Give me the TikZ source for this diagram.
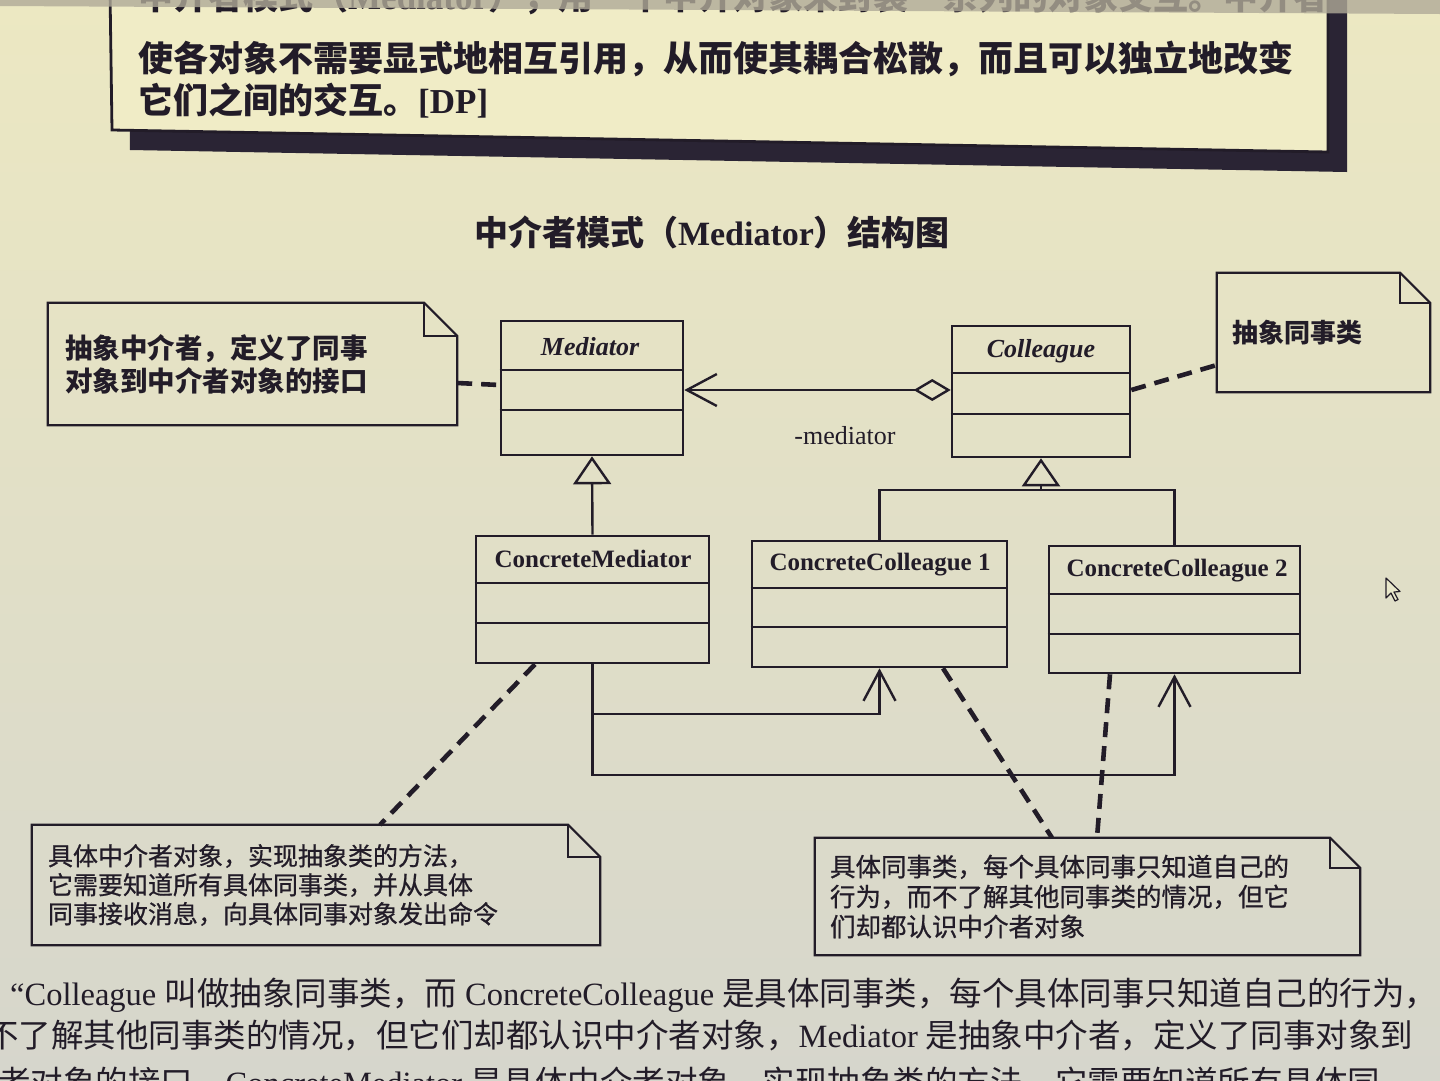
\documentclass[tikz,border=0pt]{standalone}
\usepackage{fontspec}
\setmainfont{Liberation Serif}
\newfontfamily\cjk{Noto Sans CJK SC}
\newfontfamily\cjkm[FakeBold=0.7]{Noto Sans CJK SC}
\usetikzlibrary{arrows.meta}

\definecolor{ink}{RGB}{34,28,40}
\definecolor{bgtop}{RGB}{236,232,194}
\definecolor{bgmid}{RGB}{233,231,203}
\definecolor{bgbot}{RGB}{214,214,204}
\definecolor{boxfill}{RGB}{240,236,198}
\definecolor{shadowc}{RGB}{42,36,52}
\definecolor{stripc}{RGB}{176,170,152}

% dog-eared note outline around a named node: #1 node, #2 fold size
\newcommand\foldnote[2]{%
  \draw[noteline] (#1.north west) -- ([xshift=-#2pt]#1.north east)
    -- ([yshift=-#2pt]#1.north east) -- (#1.south east) -- (#1.south west) -- cycle;
  \draw[noteline] ([xshift=-#2pt]#1.north east) |- ([yshift=-#2pt]#1.north east);}

\begin{document}
\begin{tikzpicture}[x=1pt,y=-1pt,
  umlbox/.style={draw=ink, line width=2.6pt, inner sep=0pt},
  umlline/.style={draw=ink, line width=2.6pt},
  clsname/.style={text=ink, font=\fontsize{25}{28}\selectfont\bfseries},
  notebox/.style={inner ysep=0pt, align=left, text=ink},
  noteline/.style={draw=ink, line width=2.2pt, line join=miter},
  notelink/.style={draw=ink, line width=4.6pt, dash pattern=on 15pt off 9pt},
  assoc/.style={draw=ink, line width=2.4pt, -{Straight Barb[length=30pt,width=32pt]}},
  gen/.style={draw=ink, line width=2.4pt, -{Triangle[open,length=28pt,width=38pt]}},
  bodytext/.style={text=ink, anchor=west, inner sep=0pt,
    font=\fontsize{32.5}{36}\selectfont},
  deftext/.style={text=ink, anchor=west, inner sep=0pt,
    font=\fontsize{35}{40}\selectfont\bfseries}]

\clip (0,0) rectangle (1440,1080);
\shade[top color=bgtop, middle color=bgmid, bottom color=bgbot] (0,0) rectangle (1440,1080);

% definition box at the top, with its drop shadow
\fill[shadowc] (128,-10) -- (1347,-10) -- (1347,172) -- (130,150) -- cycle;
\filldraw[fill=boxfill, draw=ink, line width=2.8pt]
  (110,-10) -- (1328,-10) -- (1328,152) -- (112,130) -- cycle;

\node[deftext] (def1) at (138,-3) {\cjk 中介者模式（{\rmfamily Mediator}），用一个中介对象来封装一系列的对象交互。中介者};
\node[deftext] (def2) at (138,59) {\cjk 使各对象不需要显式地相互引用，从而使其耦合松散，而且可以独立地改变};
\node[deftext] (def3) at (138,101) {{\cjk 它们之间的交互。}{\rmfamily [DP]}};
\fill[stripc, opacity=0.8] (0,0) -- (1440,0) -- (1440,14) -- (0,6) -- cycle;

% title
\node[text=ink, font=\fontsize{34}{38}\selectfont\bfseries] (title) at (712,232)
  {{\cjk 中介者模式（}Mediator{\cjk ）结构图}};

% classes
\node[umlbox, minimum width=182, minimum height=134] (med) at (592,388) {};
\node[umlbox, minimum width=178, minimum height=131] (col) at (1041,391.5) {};
\node[umlbox, minimum width=233, minimum height=127] (cm)  at (592.5,599.5) {};
\node[umlbox, minimum width=255, minimum height=126] (cc1) at (879.5,604) {};
\node[umlbox, minimum width=251, minimum height=127] (cc2) at (1174.5,609.5) {};

\node[clsname, font=\fontsize{26}{28}\selectfont\bfseries\itshape] (medT) at (590,347) {Mediator};
\node[clsname, font=\fontsize{26}{28}\selectfont\bfseries\itshape] (colT) at (1041,351) {Colleague};
\node[clsname] (cmT)  at (593,559) {ConcreteMediator};
\node[clsname] (cc1T) at (880,565) {ConcreteColleague 1};
\node[clsname] (cc2T) at (1177,571) {ConcreteColleague 2};

% compartment dividers
\draw[umlline] (med.west |- 0,370) -- (med.east |- 0,370);
\draw[umlline] (med.west |- 0,410) -- (med.east |- 0,410);
\draw[umlline] (col.west |- 0,373) -- (col.east |- 0,373);
\draw[umlline] (col.west |- 0,414) -- (col.east |- 0,414);
\draw[umlline] (cm.west |- 0,583) -- (cm.east |- 0,583);
\draw[umlline] (cm.west |- 0,623) -- (cm.east |- 0,623);
\draw[umlline] (cc1.west |- 0,588) -- (cc1.east |- 0,588);
\draw[umlline] (cc1.west |- 0,627) -- (cc1.east |- 0,627);
\draw[umlline] (cc2.west |- 0,594) -- (cc2.east |- 0,594);
\draw[umlline] (cc2.west |- 0,634) -- (cc2.east |- 0,634);

% aggregation Colleague -> Mediator
\draw[draw=ink, line width=2.4pt,
  {Diamond[open,length=37pt,width=22pt]}-{Straight Barb[length=30pt,width=32pt]}]
  (col.west |- 0,390) -- (med.east |- 0,390);
\node[text=ink, font=\fontsize{26}{28}\selectfont] (rolename) at (845,436) {-mediator};

% generalisation
\draw[gen] (cm.north) -- (med.south);
\coordinate (cj) at (col.south |- 0,490);
\draw[umlline, line width=2.4pt] (cc1.north) |- (cj) -| (cc2.north);
\draw[gen] (cj) -- (col.south);

% ConcreteMediator knows the concrete colleagues
\draw[assoc] (cm.south) |- (cc1.south |- 0,714) -- (cc1.south);
\draw[assoc] (cm.south) |- (cc2.south |- 0,775) -- (cc2.south);

% notes
\node[notebox, text width=375pt, inner xsep=17pt, minimum height=122pt,
  font=\cjk\bfseries\fontsize{27.5}{33}\selectfont] (n1) at (252.5,364)
  {抽象中介者，定义了同事\\对象到中介者对象的接口};
\node[notebox, text width=183pt, inner xsep=15pt, minimum height=119pt,
  font=\cjk\bfseries\fontsize{26}{30}\selectfont] (n2) at (1323.5,332.5)
  {抽象同事类};
\node[notebox, text width=536pt, inner xsep=16pt, minimum height=120pt,
  font=\cjkm\fontsize{25}{29}\selectfont] (n3) at (316,885)
  {具体中介者对象，实现抽象类的方法，\\它需要知道所有具体同事类，并从具体\\同事接收消息，向具体同事对象发出命令};
\node[notebox, text width=515pt, inner xsep=15pt, minimum height=117pt,
  font=\cjkm\fontsize{25.5}{30}\selectfont] (n4) at (1087.5,896.5)
  {具体同事类，每个具体同事只知道自己的\\行为，而不了解其他同事类的情况，但它\\们却都认识中介者对象};
\foldnote{n1}{33}
\foldnote{n2}{30}
\foldnote{n3}{32}
\foldnote{n4}{30}

% note anchors
\draw[notelink] (n1.east |- 0,383) -- (med.west |- 0,385);
\draw[notelink] (col.east |- 0,390) -- (n2.west |- 0,365);
\draw[notelink] (cm.south -| 535,0) -- (n3.north -| 380,0);
\draw[notelink] (cc1.south -| 943,0) -- (n4.north -| 1052,0);
\draw[notelink] (cc2.south -| 1110,0) -- (n4.north -| 1097,0);

% running text below the figure
\node[bodytext] (body1) at (10,995)
  {“Colleague {\cjk 叫做抽象同事类，而} ConcreteColleague {\cjk 是具体同事类，每个具体同事只知道自己的行为，}};
\node[bodytext] (body2) at (-14,1035)
  {{\cjk 不了解其他同事类的情况，但它们却都认识中介者对象，}Mediator {\cjk 是抽象中介者，定义了同事对象到}};
\node[bodytext] (body3) at (-67,1082)
  {{\cjk 中介者对象的接口，}ConcreteMediator {\cjk 是具体中介者对象，实现抽象类的方法，它需要知道所有具体同}};

% mouse pointer
\filldraw[fill=bgmid, draw=ink, line width=1.2pt, line join=round]
  (1386,578) -- (1386,598) -- (1391,593) -- (1395,601) -- (1398,599.5)
  -- (1394,592) -- (1400,591.5) -- cycle;
\end{tikzpicture}
\end{document}
